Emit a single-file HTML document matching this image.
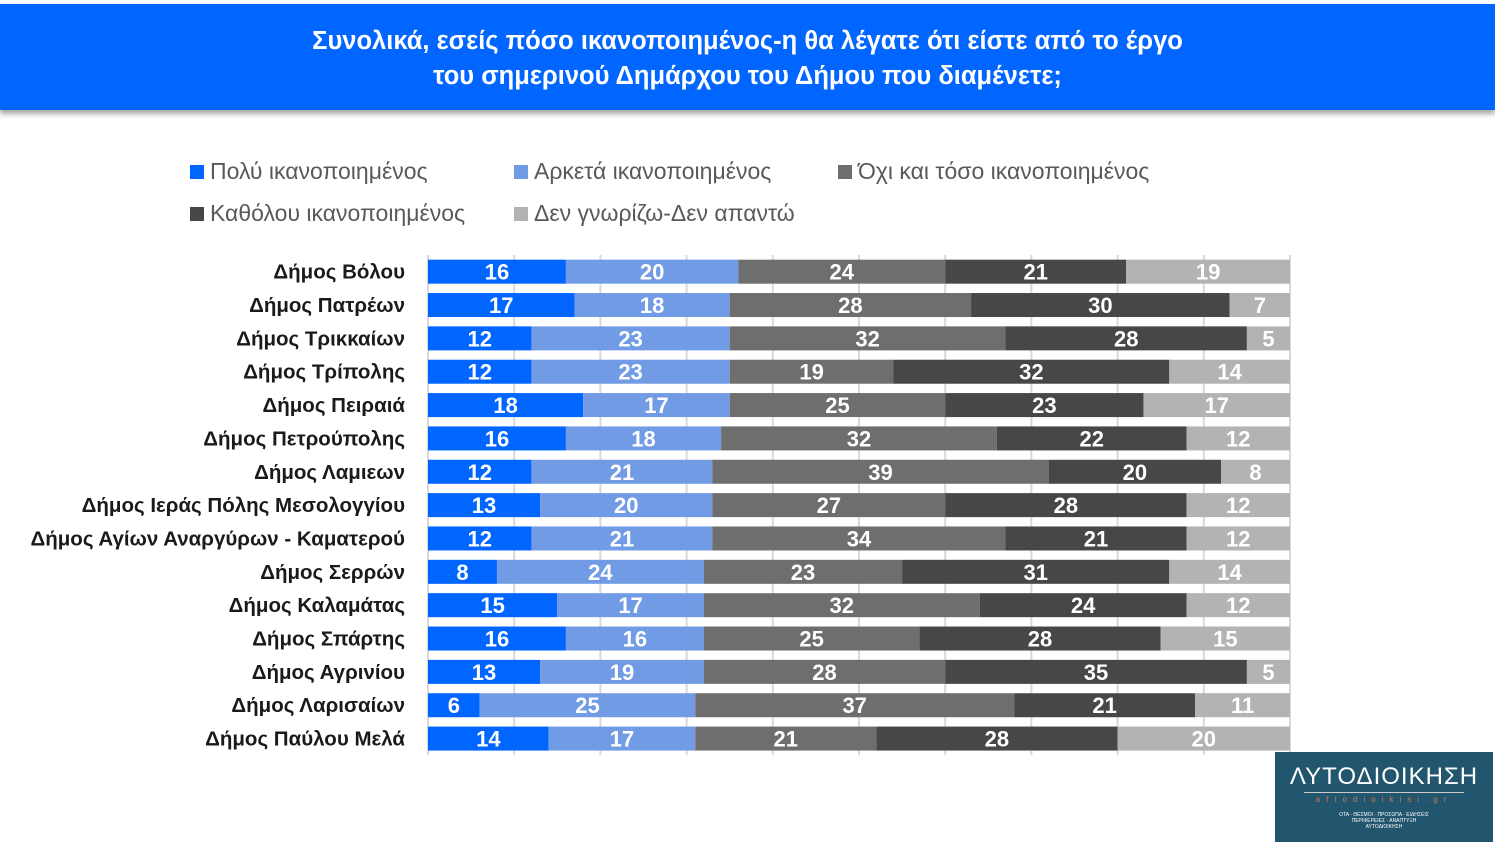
<!DOCTYPE html>
<html><head><meta charset="utf-8"><style>
body{margin:0;width:1495px;height:843px;background:#fff;position:relative;overflow:hidden;font-family:"Liberation Sans","DejaVu Sans",sans-serif}
#title{position:absolute;left:0;top:4px;width:1495px;height:106px;background:#0066ff;color:#fff;font-weight:bold;font-size:25.5px;text-align:center;line-height:35px;box-shadow:0 4px 5px rgba(0,0,0,.35);box-sizing:border-box;padding-top:20px}
.leg{position:absolute;font-size:23px;color:#595959;display:flex;align-items:center}
.leg i{display:inline-block;width:14px;height:14px;margin-right:6px}
#logo{position:absolute;left:1275px;top:752px;width:218px;height:90px;background:#22566e;color:#fff;text-align:center}
</style></head><body>
<div id="title">Συνολικά, εσείς πόσο ικανοποιημένος-η θα λέγατε ότι είστε από το έργο<br>του σημερινού Δημάρχου του Δήμου που διαμένετε;</div>
<div class="leg" style="left:190px;top:158px"><i style="background:#0066ff"></i>Πολύ ικανοποιημένος</div>
<div class="leg" style="left:514px;top:158px"><i style="background:#729be6"></i>Αρκετά ικανοποιημένος</div>
<div class="leg" style="left:838px;top:158px"><i style="background:#6e6e6e"></i>Όχι και τόσο ικανοποιημένος</div>
<div class="leg" style="left:190px;top:200px"><i style="background:#474747"></i>Καθόλου ικανοποιημένος</div>
<div class="leg" style="left:514px;top:200px"><i style="background:#b3b3b3"></i>Δεν γνωρίζω-Δεν απαντώ</div>
<svg id="chart" width="1495" height="843" style="position:absolute;left:0;top:0"></svg>
<div id="logo">
<div style="font-size:24px;letter-spacing:1px;margin-top:12px;line-height:26px">ΛΥΤΟΔΙΟΙΚΗΣΗ</div>
<div style="width:160px;height:1px;background:#ccc;margin:2px auto"></div>
<div style="font-size:8px;color:#c77a4a;letter-spacing:6px">aftodioikisi.gr</div>
<div style="font-size:5px;margin-top:8px;line-height:6px">ΟΤΑ · ΘΕΣΜΟΙ · ΠΡΟΣΩΠΑ · ΕΙΔΗΣΕΙΣ<br>ΠΕΡΙΦΕΡΕΙΕΣ · ΑΝΑΠΤΥΞΗ<br>ΑΥΤΟΔΙΟΙΚΗΣΗ</div>
</div>
<script>
const categories=["Δήμος Βόλου","Δήμος Πατρέων","Δήμος Τρικκαίων","Δήμος Τρίπολης","Δήμος Πειραιά","Δήμος Πετρούπολης","Δήμος Λαμιεων","Δήμος Ιεράς Πόλης Μεσολογγίου","Δήμος Αγίων Αναργύρων - Καματερού","Δήμος Σερρών","Δήμος Καλαμάτας","Δήμος Σπάρτης","Δήμος Αγρινίου","Δήμος Λαρισαίων","Δήμος Παύλου Μελά"];
const veryValues=[16,17,12,12,18,16,12,13,12,8,15,16,13,6,14];
const quiteValues=[20,18,23,23,17,18,21,20,21,24,17,16,19,25,17];
const notSoValues=[24,28,32,19,25,32,39,27,34,23,32,25,28,37,21];
const notAtAllValues=[21,30,28,32,23,22,20,28,21,31,24,28,35,21,28];
const dkValues=[19,7,5,14,17,12,8,12,12,14,12,15,5,11,20];
const gridTicks=[0,10,20,30,40,50,60,70,80,90,100];
const series=[veryValues,quiteValues,notSoValues,notAtAllValues,dkValues];
const colors=["#0066ff","#729be6","#6e6e6e","#474747","#b3b3b3"];
const names=["very","quite","not-so","not-at-all","dk"];
const svg=document.getElementById('chart');const NS="http://www.w3.org/2000/svg";
const x0=428,x1=1290,top0=255,pitch=33.35,barH=24;
const xs=p=>x0+(x1-x0)*p/100;
const yc=i=>top0+pitch*(i+0.5);
function mk(t,a){const e=document.createElementNS(NS,t);for(const k in a)e.setAttribute(k,a[k]);svg.appendChild(e);return e;}
gridTicks.forEach(t=>{const g=mk('line',{x1:xs(t),x2:xs(t),y1:top0,y2:top0+pitch*categories.length,stroke:'#d9d9d9','stroke-width':2});

});
categories.forEach((c,i)=>{
 const lb=mk('text',{x:405,y:yc(i)+7,'text-anchor':'end','font-size':20.5,'font-weight':'bold',fill:'#1a1a1a'});lb.textContent=c;
 
 
 const tot=series.reduce((s,a)=>s+a[i],0);let cum=0;
 series.forEach((a,k)=>{const v=a[i];const xa=xs(cum/tot*100),xb=xs((cum+v)/tot*100);cum+=v;
  const r=mk('rect',{x:xa,y:yc(i)-barH/2,width:xb-xa,height:barH,fill:colors[k]});
  
  
  const t=mk('text',{x:(xa+xb)/2,y:yc(i)+8,'text-anchor':'middle','font-size':22,'font-weight':'bold',fill:'#fff'});t.textContent=v;
  
  
 });
});
</script>
</body></html>
